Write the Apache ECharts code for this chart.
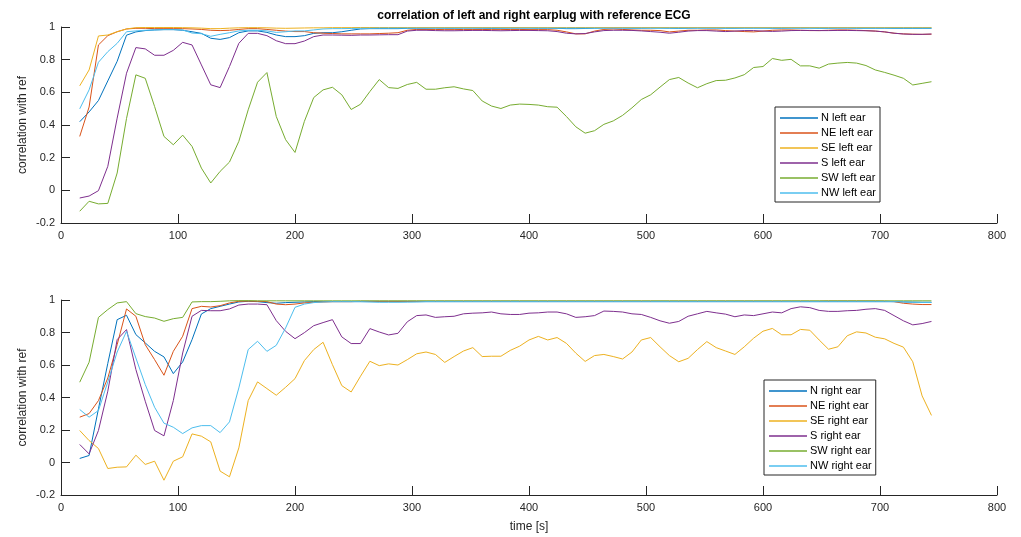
<!DOCTYPE html>
<html>
<head>
<meta charset="utf-8">
<title>earplug correlation</title>
<script src="https://cdn.jsdelivr.net/npm/echarts@6/dist/echarts.min.js"></script>
<style>
  html, body { margin: 0; padding: 0; background: #fff; }
  #chart { width: 1021px; height: 537px; }
</style>
</head>
<body>
<div id="chart"></div>
<script>
// time axis, seconds
const time = [16,24,32,40,48,56,64,72,80,88,
  96,104,112,120,128,136,144,152,160,168,
  176,184,192,200,208,216,224,232,240,248,
  256,264,272,280,288,296,304,312,320,328,
  336,344,352,360,368,376,384,392,400,408,
  416,424,432,440,448,456,464,472,480,488,
  496,504,512,520,528,536,544,552,560,568,
  576,584,592,600,608,616,624,632,640,648,
  656,664,672,680,688,696,704,712,720,728,
  736,744];

const dirNames = ['N', 'NE', 'SE', 'S', 'SW', 'NW'];
const colors = ['#0072BD', '#D95319', '#EDB120', '#7E2F8E', '#77AC30', '#4DBEEE'];
const xTicks = [0, 100, 200, 300, 400, 500, 600, 700, 800];
const yTicks = [-0.2, 0, 0.2, 0.4, 0.6, 0.8, 1];

// left ear
const nLeft = [0.42,0.48,0.55,0.67,0.79,0.95,0.97,0.978,0.982,0.984,
  0.984,0.98,0.971,0.961,0.931,0.924,0.935,0.965,0.976,0.976,
  0.967,0.951,0.941,0.941,0.947,0.961,0.965,0.965,0.971,0.98,
  0.988,0.99,0.99,0.99,0.99,0.992,0.993,0.993,0.994,0.993,
  0.993,0.994,0.994,0.993,0.992,0.993,0.994,0.994,0.994,0.993,
  0.993,0.992,0.99,0.99,0.991,0.993,0.994,0.994,0.994,0.993,
  0.993,0.994,0.994,0.993,0.992,0.993,0.994,0.994,0.994,0.993,
  0.993,0.994,0.994,0.994,0.993,0.993,0.994,0.994,0.994,0.993,
  0.993,0.994,0.994,0.993,0.993,0.993,0.993,0.992,0.992,0.992,
  0.992,0.992];
const neLeft = [0.33,0.51,0.89,0.947,0.971,0.988,0.992,0.992,0.99,0.99,
  0.99,0.99,0.988,0.985,0.98,0.978,0.98,0.985,0.99,0.99,
  0.985,0.98,0.975,0.972,0.972,0.965,0.962,0.96,0.958,0.958,
  0.958,0.958,0.96,0.962,0.965,0.98,0.985,0.985,0.985,0.984,
  0.984,0.985,0.985,0.985,0.984,0.984,0.985,0.985,0.984,0.984,
  0.984,0.98,0.97,0.958,0.958,0.975,0.985,0.988,0.985,0.982,
  0.98,0.98,0.978,0.97,0.975,0.98,0.98,0.982,0.982,0.978,
  0.975,0.972,0.97,0.975,0.98,0.982,0.982,0.98,0.978,0.978,
  0.98,0.982,0.982,0.98,0.978,0.975,0.97,0.962,0.958,0.956,
  0.955,0.956];
const seLeft = [0.64,0.737,0.945,0.951,0.971,0.988,0.996,0.997,0.997,0.997,
  0.997,0.996,0.995,0.993,0.99,0.99,0.993,0.995,0.996,0.996,
  0.995,0.993,0.992,0.993,0.994,0.995,0.995,0.996,0.996,0.996,
  0.997,0.997,0.997,0.997,0.997,0.997,0.997,0.997,0.997,0.997,
  0.997,0.997,0.997,0.997,0.997,0.997,0.997,0.997,0.997,0.997,
  0.997,0.997,0.997,0.997,0.997,0.997,0.997,0.997,0.997,0.997,
  0.997,0.997,0.997,0.997,0.997,0.997,0.997,0.997,0.997,0.997,
  0.997,0.997,0.997,0.997,0.997,0.997,0.997,0.997,0.997,0.997,
  0.997,0.997,0.997,0.997,0.997,0.997,0.997,0.997,0.997,0.997,
  0.997,0.997];
const sLeft = [-0.047,-0.035,-0.002,0.147,0.442,0.717,0.874,0.866,0.827,0.827,
  0.857,0.906,0.89,0.768,0.646,0.629,0.758,0.9,0.961,0.961,
  0.947,0.916,0.898,0.898,0.914,0.941,0.951,0.951,0.95,0.949,
  0.951,0.951,0.952,0.953,0.953,0.975,0.98,0.98,0.978,0.977,
  0.977,0.978,0.979,0.979,0.978,0.977,0.978,0.979,0.979,0.978,
  0.977,0.972,0.962,0.958,0.96,0.97,0.978,0.98,0.98,0.979,
  0.976,0.972,0.968,0.962,0.968,0.975,0.978,0.978,0.975,0.972,
  0.975,0.978,0.978,0.975,0.973,0.975,0.978,0.979,0.979,0.978,
  0.978,0.979,0.979,0.978,0.977,0.975,0.97,0.962,0.957,0.955,
  0.955,0.957];
const swLeft = [-0.128,-0.067,-0.083,-0.08,0.106,0.44,0.707,0.686,0.513,0.33,
  0.279,0.338,0.269,0.136,0.045,0.116,0.173,0.30,0.493,0.662,
  0.721,0.452,0.31,0.232,0.422,0.568,0.615,0.631,0.585,0.495,
  0.527,0.605,0.678,0.629,0.624,0.648,0.661,0.619,0.619,0.628,
  0.634,0.621,0.611,0.547,0.516,0.501,0.522,0.528,0.526,0.522,
  0.512,0.509,0.452,0.389,0.35,0.365,0.404,0.425,0.459,0.505,
  0.556,0.585,0.632,0.678,0.691,0.657,0.628,0.653,0.672,0.674,
  0.688,0.708,0.752,0.758,0.807,0.796,0.802,0.762,0.762,0.748,
  0.773,0.779,0.783,0.779,0.764,0.737,0.722,0.705,0.686,0.645,
  0.655,0.665];
const nwLeft = [0.499,0.615,0.784,0.849,0.9,0.971,0.976,0.98,0.982,0.984,
  0.984,0.982,0.963,0.959,0.943,0.955,0.965,0.976,0.98,0.98,
  0.976,0.967,0.971,0.976,0.976,0.982,0.988,0.99,0.99,0.991,
  0.992,0.992,0.993,0.993,0.993,0.993,0.993,0.993,0.993,0.993,
  0.993,0.993,0.993,0.993,0.993,0.993,0.993,0.993,0.993,0.993,
  0.993,0.993,0.993,0.993,0.993,0.993,0.993,0.993,0.993,0.993,
  0.993,0.993,0.993,0.993,0.993,0.993,0.993,0.993,0.993,0.993,
  0.993,0.993,0.993,0.993,0.993,0.993,0.993,0.993,0.993,0.993,
  0.993,0.993,0.993,0.993,0.993,0.993,0.993,0.993,0.993,0.993,
  0.993,0.993];

// right ear
const nRight = [0.025,0.043,0.33,0.61,0.879,0.906,0.787,0.736,0.684,0.65,
  0.547,0.619,0.756,0.914,0.947,0.961,0.975,0.988,0.992,0.99,
  0.984,0.98,0.984,0.986,0.988,0.99,0.99,0.99,0.99,0.99,
  0.99,0.99,0.99,0.99,0.99,0.99,0.99,0.99,0.99,0.99,
  0.99,0.99,0.99,0.99,0.99,0.99,0.99,0.99,0.99,0.99,
  0.99,0.99,0.99,0.99,0.99,0.99,0.99,0.99,0.99,0.99,
  0.99,0.99,0.99,0.99,0.99,0.99,0.99,0.99,0.99,0.99,
  0.99,0.99,0.99,0.99,0.99,0.99,0.99,0.99,0.99,0.99,
  0.99,0.99,0.99,0.99,0.99,0.99,0.99,0.99,0.988,0.987,
  0.986,0.986];
const neRight = [0.279,0.301,0.381,0.52,0.725,0.945,0.9,0.725,0.633,0.537,
  0.684,0.777,0.947,0.961,0.957,0.965,0.982,0.992,0.993,0.992,
  0.99,0.975,0.971,0.975,0.982,0.986,0.988,0.99,0.99,0.99,
  0.992,0.992,0.992,0.992,0.992,0.992,0.992,0.992,0.992,0.992,
  0.992,0.992,0.992,0.992,0.992,0.992,0.992,0.992,0.992,0.992,
  0.992,0.992,0.992,0.992,0.992,0.992,0.992,0.992,0.992,0.992,
  0.992,0.992,0.992,0.992,0.992,0.992,0.992,0.992,0.992,0.992,
  0.992,0.992,0.992,0.992,0.992,0.992,0.992,0.992,0.992,0.992,
  0.993,0.993,0.993,0.993,0.993,0.993,0.992,0.99,0.98,0.975,
  0.972,0.972];
const seRight = [0.197,0.135,0.086,-0.037,-0.029,-0.027,0.045,-0.012,0.008,-0.109,
  0.008,0.035,0.176,0.162,0.127,-0.053,-0.088,0.09,0.381,0.496,
  0.455,0.414,0.463,0.516,0.627,0.695,0.74,0.602,0.473,0.434,
  0.531,0.623,0.596,0.607,0.6,0.633,0.669,0.68,0.665,0.616,
  0.652,0.686,0.707,0.652,0.654,0.654,0.69,0.716,0.754,0.776,
  0.754,0.769,0.733,0.673,0.622,0.658,0.665,0.652,0.637,0.68,
  0.754,0.769,0.712,0.658,0.62,0.641,0.695,0.744,0.707,0.686,
  0.665,0.712,0.765,0.808,0.825,0.786,0.786,0.819,0.814,0.754,
  0.697,0.712,0.78,0.804,0.797,0.771,0.761,0.733,0.71,0.62,
  0.41,0.29];
const sRight = [0.111,0.053,0.197,0.439,0.756,0.818,0.572,0.377,0.197,0.164,
  0.381,0.674,0.9,0.936,0.934,0.934,0.945,0.969,0.975,0.975,
  0.971,0.873,0.807,0.762,0.799,0.842,0.861,0.879,0.773,0.732,
  0.732,0.824,0.803,0.785,0.795,0.866,0.904,0.908,0.893,0.897,
  0.9,0.915,0.919,0.921,0.926,0.915,0.911,0.911,0.919,0.921,
  0.926,0.926,0.915,0.893,0.897,0.904,0.932,0.93,0.926,0.915,
  0.911,0.893,0.872,0.857,0.868,0.9,0.915,0.93,0.921,0.913,
  0.897,0.908,0.904,0.915,0.926,0.921,0.947,0.958,0.953,0.936,
  0.93,0.93,0.934,0.936,0.943,0.947,0.936,0.904,0.872,0.847,
  0.855,0.868];
const swRight = [0.494,0.617,0.893,0.941,0.982,0.99,0.916,0.898,0.889,0.869,
  0.885,0.893,0.988,0.99,0.99,0.992,0.995,0.996,0.996,0.995,
  0.995,0.995,0.995,0.995,0.995,0.995,0.995,0.995,0.995,0.995,
  0.995,0.995,0.995,0.995,0.995,0.995,0.995,0.995,0.995,0.995,
  0.995,0.995,0.995,0.995,0.995,0.995,0.995,0.995,0.995,0.995,
  0.995,0.995,0.995,0.995,0.995,0.995,0.995,0.995,0.995,0.995,
  0.995,0.995,0.995,0.995,0.995,0.995,0.995,0.995,0.995,0.995,
  0.995,0.995,0.995,0.995,0.995,0.995,0.995,0.995,0.995,0.995,
  0.995,0.995,0.995,0.995,0.995,0.995,0.995,0.995,0.995,0.995,
  0.995,0.995];
const nwRight = [0.326,0.279,0.32,0.496,0.68,0.807,0.643,0.48,0.34,0.242,
  0.217,0.178,0.213,0.227,0.227,0.184,0.25,0.459,0.695,0.746,
  0.684,0.721,0.828,0.955,0.975,0.984,0.988,0.99,0.99,0.99,
  0.99,0.988,0.986,0.986,0.986,0.987,0.988,0.99,0.99,0.99,
  0.99,0.99,0.99,0.99,0.99,0.99,0.99,0.99,0.99,0.99,
  0.99,0.99,0.99,0.99,0.99,0.99,0.99,0.99,0.99,0.99,
  0.99,0.99,0.99,0.99,0.99,0.99,0.99,0.99,0.99,0.99,
  0.99,0.99,0.99,0.99,0.99,0.99,0.99,0.99,0.99,0.99,
  0.99,0.99,0.99,0.99,0.99,0.99,0.99,0.99,0.988,0.986,
  0.985,0.985];

const leftData = [nLeft, neLeft, seLeft, sLeft, swLeft, nwLeft];
const rightData = [nRight, neRight, seRight, sRight, swRight, nwRight];

const axisColor = '#262626';
const font = 'Arial, "Liberation Sans", Helvetica, sans-serif';

function pairs(values) {
  return values.map(function (v, i) { return [time[i], v]; });
}

function makeSeries(list, side, axisIdx) {
  return list.map(function (values, k) {
    return {
      name: dirNames[k] + ' ' + side + ' ear',
      type: 'line',
      xAxisIndex: axisIdx,
      yAxisIndex: axisIdx,
      data: pairs(values),
      symbol: 'none',
      color: colors[k],
      lineStyle: { width: 1, color: colors[k] },
      z: 2 + k
    };
  });
}

function xAxisOpt(idx, withName) {
  return {
    type: 'value',
    gridIndex: idx,
    min: xTicks[0],
    max: xTicks[xTicks.length - 1],
    interval: 100,
    name: withName ? 'time [s]' : '',
    nameLocation: 'middle',
    nameGap: 26,
    nameTextStyle: { color: axisColor, fontSize: 12, fontFamily: font },
    axisLine: { onZero: false, lineStyle: { color: axisColor, width: 1 } },
    axisTick: { inside: true, length: 9, lineStyle: { color: axisColor } },
    axisLabel: { color: axisColor, fontSize: 11, fontFamily: font, margin: 7 },
    splitLine: { show: false }
  };
}

function yAxisOpt(idx) {
  return {
    type: 'value',
    gridIndex: idx,
    min: yTicks[0],
    max: yTicks[yTicks.length - 1],
    interval: 0.2,
    name: 'correlation with ref',
    nameLocation: 'middle',
    nameGap: 32,
    nameMoveOverlap: false,
    nameTextStyle: { color: axisColor, fontSize: 12, fontFamily: font },
    axisLine: { show: true, onZero: false, lineStyle: { color: axisColor, width: 1 } },
    axisTick: { show: true, inside: true, length: 9, lineStyle: { color: axisColor } },
    axisLabel: { color: axisColor, fontSize: 11, fontFamily: font, margin: 6 },
    splitLine: { show: false }
  };
}

// legend sample is a thin bar, like matlab's line swatch
function legendOpt(side, left, top) {
  return {
    orient: 'vertical',
    left: left,
    top: top,
    data: dirNames.map(function (d) { return d + ' ' + side + ' ear'; }),
    icon: 'rect',
    itemWidth: 38,
    itemHeight: 2,
    itemGap: 3,
    itemStyle: { opacity: 0.75 },
    padding: [5, 4, 3, 5],
    borderColor: axisColor,
    borderWidth: 1,
    borderRadius: 0,
    backgroundColor: '#fff',
    textStyle: { color: '#000', fontSize: 11, lineHeight: 12, fontFamily: font, padding: [0, 0, 0, -2] },
    selectedMode: false
  };
}

const chart = echarts.init(document.getElementById('chart'));
chart.setOption({
  animation: false,
  backgroundColor: '#fff',
  title: {
    text: 'correlation of left and right earplug with reference ECG',
    left: 529,
    top: 5,
    textAlign: 'center',
    textStyle: { color: '#000', fontSize: 12, fontWeight: 'bold', fontFamily: font }
  },
  grid: [
    { left: 61, top: 27, width: 936, height: 196 },
    { left: 61, top: 300, width: 936, height: 195 }
  ],
  xAxis: [xAxisOpt(0, false), xAxisOpt(1, true)],
  yAxis: [yAxisOpt(0), yAxisOpt(1)],
  legend: [legendOpt('left', 775, 107), legendOpt('right', 764, 380)],
  series: makeSeries(leftData, 'left', 0).concat(makeSeries(rightData, 'right', 1))
});
</script>
</body>
</html>
